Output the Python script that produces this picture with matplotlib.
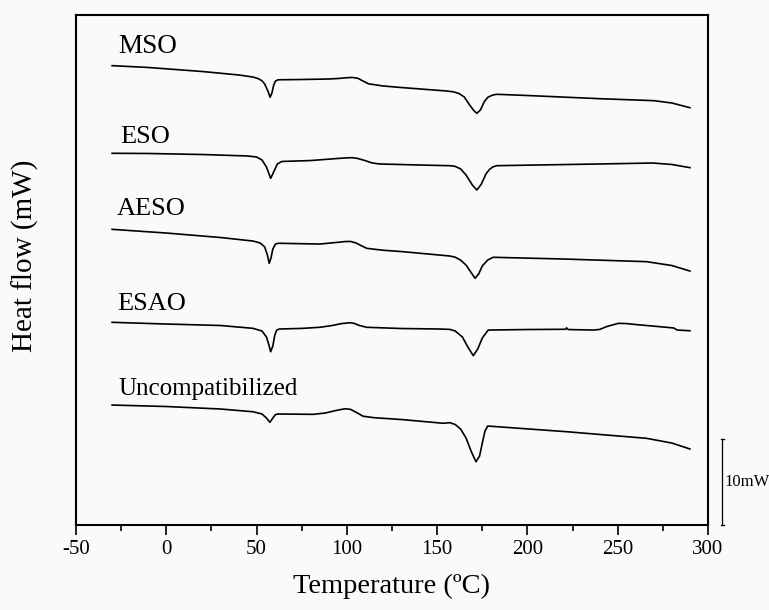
import numpy as np
import matplotlib.pyplot as plt
from matplotlib.ticker import MultipleLocator

# font setting
plt.rcParams['font.family'] = ['Liberation Serif', 'DejaVu Serif']
plt.rcParams['axes.unicode_minus'] = False

# DSC curves (temperature in oC, heat flow in mW, already stacked)
names = ['MSO', 'ESO', 'AESO', 'ESAO', 'Uncompatibilized']

t_mso = [-30, -10, 20, 40, 48, 51, 53, 54.5, 56.5, 57.5, 58.5, 59.5, 60.5, 62, 75, 90, 96, 100,
         103, 106, 109, 112, 120, 130, 155, 159, 162, 165, 168, 170.5, 172, 174, 176, 178, 180.5,
         183, 200, 240, 270, 280, 290]
hf_mso = [53.41, 53.20, 52.73, 52.33, 52.09, 51.90, 51.65, 51.28, 50.35, 49.73, 50.23, 51.16, 51.63,
          51.77, 51.80, 51.86, 51.93, 52.01, 52.04, 51.95, 51.62, 51.30, 51.05, 50.87, 50.47, 50.37,
          50.18, 49.77, 48.84, 48.14, 47.87, 48.26, 49.19, 49.72, 49.98, 50.08, 49.94, 49.57, 49.34,
          49.07, 48.52]

t_eso = [-30, -10, 20, 45, 50, 53, 55.5, 57.8, 60, 61.5, 64, 80, 95, 100, 103, 106, 110, 114,
         118, 140, 157, 160, 163, 166, 169.5, 172, 174.5, 177, 179, 181, 183, 200, 240, 269.5, 280,
         290]
hf_eso = [43.22, 43.20, 43.08, 42.91, 42.79, 42.44, 41.63, 40.31, 41.28, 41.98, 42.27, 42.38, 42.62,
          42.69, 42.71, 42.62, 42.38, 42.10, 41.98, 41.86, 41.78, 41.70, 41.40, 40.70, 39.53, 38.95,
          39.65, 40.81, 41.35, 41.65, 41.78, 41.84, 41.98, 42.09, 41.92, 41.55]

t_aeso = [-30, 0, 30, 48, 52, 54.5, 56, 57, 58, 59, 60.5, 62, 85, 95, 99, 102, 105, 108, 111,
          120, 130, 157, 160, 163, 166, 169, 171, 173, 175, 178, 181, 220, 266, 280, 290]
hf_aeso = [34.38, 33.95, 33.43, 33.02, 32.79, 32.33, 31.40, 30.43, 31.05, 32.09, 32.67, 32.76, 32.67,
           32.87, 32.96, 32.97, 32.80, 32.48, 32.17, 31.95, 31.80, 31.28, 31.14, 30.80, 30.23, 29.30,
           28.69, 29.19, 30.12, 30.81, 31.13, 30.93, 30.62, 30.17, 29.53]

t_esao = [-30, 0, 30, 48, 53, 55.5, 57, 57.8, 59, 60, 61, 62.5, 75, 85, 92, 97, 101.7, 104, 107,
          111, 130, 151.5, 157, 160, 164, 167, 170, 172.5, 175, 178.3, 200, 221, 221.7, 222.5,
          236.5, 240, 244, 250.3, 255, 260, 277, 281, 283, 290]
hf_esao = [23.57, 23.37, 23.20, 22.87, 22.56, 21.86, 20.81, 20.15, 20.81, 21.98, 22.62, 22.79, 22.86,
           22.99, 23.20, 23.42, 23.52, 23.45, 23.20, 22.99, 22.85, 22.79, 22.75, 22.56, 21.86, 20.70,
           19.69, 20.47, 21.74, 22.67, 22.73, 22.76, 22.93, 22.73, 22.67, 22.74, 23.08, 23.45, 23.42,
           23.31, 22.99, 22.91, 22.67, 22.59]

t_unc = [-30, 0, 30, 48, 53, 55.5, 57.4, 59, 60.5, 62, 81.4, 88, 94, 99, 102, 105, 109, 115, 130,
         153.4, 157, 160, 163, 166, 169, 171.5, 173.5, 175, 176.5, 178, 221.7, 266, 280, 290]
hf_unc = [13.95, 13.78, 13.49, 13.17, 12.91, 12.44, 11.94, 12.44, 12.85, 12.91, 12.87, 13.02, 13.32,
          13.52, 13.45, 13.12, 12.65, 12.48, 12.27, 11.83, 11.90, 11.69, 11.16, 10.12, 8.49, 7.36,
          8.02, 9.53, 10.93, 11.51, 10.85, 10.08, 9.53, 8.84]

temps = [t_mso, t_eso, t_aeso, t_esao, t_unc]
flows = [hf_mso, hf_eso, hf_aeso, hf_esao, hf_unc]

# label placement (x, baseline y) and font sizes
label_x = [-26.7, -25.6, -27.5, -27.1, -26.7]
label_y = [54.9, 44.4, 36.05, 25.0, 15.1]
label_fs = [19.5, 19, 19, 19, 18]

scale_mw = 10

fig = plt.figure(figsize=(7.69, 6.10), dpi=100, facecolor='#fafafa')
ax = fig.add_axes([0.0988, 0.1393, 0.8219, 0.8361], facecolor='#fafafa')

for t, hf in zip(temps, flows):
    ax.plot(t, hf, color='black', lw=1.2, solid_joinstyle='round')

for name, lx, ly, fs in zip(names, label_x, label_y, label_fs):
    ax.text(lx, ly, name, fontsize=fs, va='baseline', ha='left')

# 10 mW scale bar outside right spine
ax.plot([307.9, 307.9], [0, scale_mw], color='black', lw=0.9, clip_on=False)
ax.plot([307.0, 308.8], [0, 0], color='black', lw=0.9, clip_on=False)
ax.plot([307.0, 308.8], [scale_mw, scale_mw], color='black', lw=0.9, clip_on=False)
ax.text(309.3, scale_mw / 2, '10mW', fontsize=12, va='center', ha='left')

ax.set_xlim(-50, 300)
ax.set_ylim(0, 59.3)
ax.xaxis.set_major_locator(MultipleLocator(50))
ax.xaxis.set_minor_locator(MultipleLocator(25))
ax.tick_params(axis='x', which='major', direction='out', length=7.5, width=1.2, labelsize=15, pad=3)
ax.tick_params(axis='x', which='minor', direction='out', length=4.3, width=1.2)
ax.set_yticks([])
for s in ax.spines.values():
    s.set_linewidth(1.5)

ax.set_xlabel('Temperature (ºC)', fontsize=20.5, labelpad=11)
fig.text(0.033, 0.58, 'Heat flow (mW)', fontsize=21, rotation=90, va='center', ha='center')

fig.savefig('out.png', dpi=100, facecolor=fig.get_facecolor())
